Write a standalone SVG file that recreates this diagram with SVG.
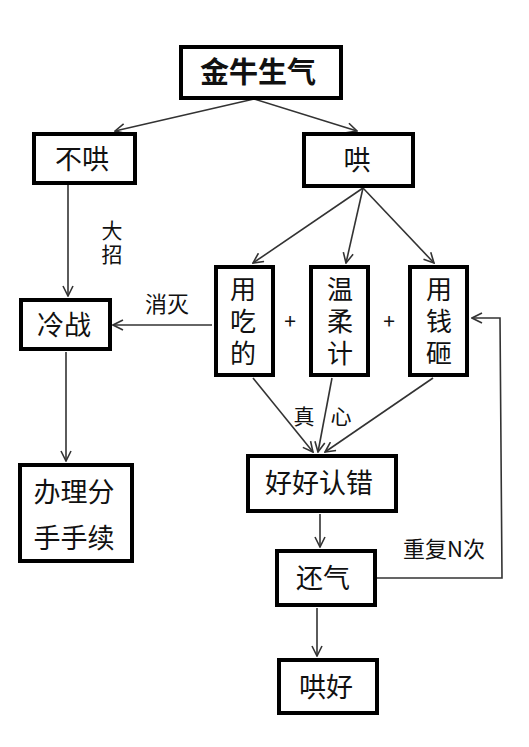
<svg xmlns="http://www.w3.org/2000/svg" width="529" height="747" viewBox="0 0 529 747">
<style>
.box{fill:#fff;stroke:#000;stroke-width:4}
.t{font-family:"Noto Sans CJK SC","Liberation Sans",sans-serif;font-size:27px;fill:#111;text-anchor:middle}
.v{font-family:"Noto Sans CJK SC","Liberation Sans",sans-serif;font-size:26px;fill:#111;writing-mode:vertical-rl;text-orientation:upright;letter-spacing:6px}
.l{font-family:"Noto Sans CJK SC","Liberation Sans",sans-serif;font-size:21px;fill:#111;text-anchor:middle}
.c{fill:none;stroke:#333;stroke-width:1.6}
</style>
<defs>
<marker id="a" viewBox="0 0 12 12" refX="11" refY="6" markerWidth="12" markerHeight="12" markerUnits="userSpaceOnUse" orient="auto">
<polyline points="1,1 11,6 1,11" fill="none" stroke="#333" stroke-width="1.6"/>
</marker>
</defs>
<rect width="529" height="747" fill="#fff"/>
<g id="connectors">
<line class="c" x1="254" y1="99" x2="115" y2="131" marker-end="url(#a)"/>
<line class="c" x1="254" y1="99" x2="357" y2="131" marker-end="url(#a)"/>
<line class="c" x1="68" y1="185" x2="68" y2="296" marker-end="url(#a)"/>
<line class="c" x1="363" y1="188" x2="253" y2="263" marker-end="url(#a)"/>
<line class="c" x1="363" y1="188" x2="346" y2="263" marker-end="url(#a)"/>
<line class="c" x1="363" y1="188" x2="434" y2="263" marker-end="url(#a)"/>
<line class="c" x1="212" y1="325" x2="113" y2="325" marker-end="url(#a)"/>
<line class="c" x1="66" y1="352" x2="66" y2="461" marker-end="url(#a)"/>
<line class="c" x1="253" y1="378" x2="313" y2="452" marker-end="url(#a)"/>
<line class="c" x1="332" y1="378" x2="318" y2="452" marker-end="url(#a)"/>
<line class="c" x1="433" y1="378" x2="325" y2="452" marker-end="url(#a)"/>
<line class="c" x1="320" y1="514" x2="320" y2="547" marker-end="url(#a)"/>
<line class="c" x1="317" y1="608" x2="317" y2="656" marker-end="url(#a)"/>
<polyline class="c" points="377,578 502,578 500,318 472,318" marker-end="url(#a)"/>
</g>
<g id="n-jinniu"><rect class="box" x="181" y="47" width="160" height="51"/><text class="t" x="258" y="83" style="font-weight:bold;font-size:29px">金牛生气</text></g>
<g id="n-buhong"><rect class="box" x="34" y="134" width="101" height="49"/><text class="t" x="82" y="169">不哄</text></g>
<g id="n-hong"><rect class="box" x="304" y="134" width="109" height="52"/><text class="t" x="357" y="170">哄</text></g>
<g id="n-lengzhan"><rect class="box" x="21" y="300" width="89" height="49"/><text class="t" x="64" y="335">冷战</text></g>
<g id="n-chi"><rect class="box" x="216" y="267" width="57" height="108"/><text class="v" x="243" y="276">用吃的</text></g>
<g id="n-wenrou"><rect class="box" x="311" y="267" width="57" height="108"/><text class="v" x="340" y="276">温柔计</text></g>
<g id="n-qian"><rect class="box" x="410" y="267" width="57" height="108"/><text class="v" x="439" y="276">用钱砸</text></g>
<g id="n-fenshou"><rect class="box" x="20" y="465" width="112" height="96"/><text class="t" x="74" y="502">办理分</text><text class="t" x="74" y="548">手手续</text></g>
<g id="n-renchuo"><rect class="box" x="248" y="456" width="148" height="55"/><text class="t" x="319" y="493">好好认错</text></g>
<g id="n-huanqi"><rect class="box" x="277" y="551" width="98" height="54"/><text class="t" x="323" y="588">还气</text></g>
<g id="n-honghao"><rect class="box" x="279" y="660" width="98" height="53"/><text class="t" x="326" y="697">哄好</text></g>
<g id="labels">
<text class="v" x="112" y="220" style="font-size:21px;letter-spacing:3px">大招</text>
<text class="l" x="167" y="312" style="font-size:22px">消灭</text>
<text class="l" x="290" y="329">+</text>
<text class="l" x="389" y="329">+</text>
<text class="l" x="304" y="424">真</text>
<text class="l" x="341" y="424">心</text>
<text class="l" x="444" y="557" style="font-size:22px">重复N次</text>
</g>
</svg>
